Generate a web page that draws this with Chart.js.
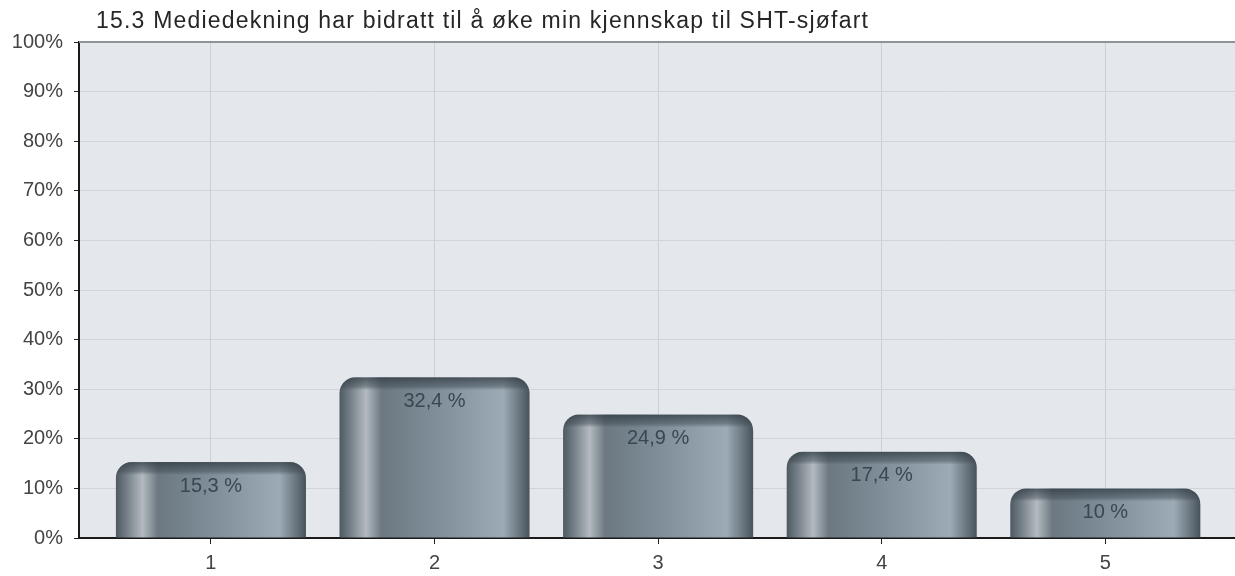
<!DOCTYPE html>
<html>
<head>
<meta charset="utf-8">
<script src="https://cdn.jsdelivr.net/npm/chart.js@4.4.0/dist/chart.umd.min.js"></script>
<style>
  html, body { margin: 0; padding: 0; background: #ffffff; }
  #wrap { width: 1235px; height: 576px; position: relative; }
</style>
</head>
<body>
<div id="wrap"><canvas id="c" width="1235" height="576"></canvas></div>
<script>
const chartTitle = '15.3 Mediedekning har bidratt til å øke min kjennskap til SHT-sjøfart';
const categories = ['1', '2', '3', '4', '5'];
const values = [15.3, 32.4, 24.9, 17.4, 10];
const yTicks = [0, 10, 20, 30, 40, 50, 60, 70, 80, 90, 100];

const FONT = '"Liberation Sans", Arial, sans-serif';

const bgPlugin = {
  id: 'bg',
  beforeDraw(chart) {
    const { ctx, chartArea: a } = chart;
    ctx.save();
    ctx.fillStyle = '#e4e7eb';
    ctx.fillRect(a.left, a.top, a.right - a.left, a.bottom - a.top);
    ctx.restore();
  },
  afterDraw(chart) {
    const { ctx, chartArea: a } = chart;
    ctx.save();
    ctx.strokeStyle = '#8f9398';
    ctx.lineWidth = 2;
    ctx.beginPath();
    ctx.moveTo(a.left, a.top);
    ctx.lineTo(a.right, a.top);
    ctx.stroke();
    ctx.fillStyle = '#262626';
    ctx.font = '23px ' + FONT;
    if ('letterSpacing' in ctx) ctx.letterSpacing = '1.2px';
    ctx.textBaseline = 'alphabetic';
    ctx.textAlign = 'left';
    ctx.fillText(chartTitle, 96, 28);
    ctx.restore();
  }
};

const barStyle = {
  id: 'barStyle',
  beforeDatasetsDraw(chart) {
    const { ctx } = chart;
    chart.getDatasetMeta(0).data.forEach(el => {
      const l = el.x - el.width / 2, r = el.x + el.width / 2;
      const g = ctx.createLinearGradient(l, 0, r, 0);
      g.addColorStop(0.00, '#4f5961');
      g.addColorStop(0.05, '#6f7a82');
      g.addColorStop(0.14, '#b3bbc0');
      g.addColorStop(0.22, '#6d7880');
      g.addColorStop(0.32, '#72808a');
      g.addColorStop(0.60, '#8695a0');
      g.addColorStop(0.86, '#9dabb6');
      g.addColorStop(0.94, '#6e7a83');
      g.addColorStop(1.00, '#48525a');
      el.options = Object.assign({}, el.options, { backgroundColor: g });
    });
  },
  afterDatasetsDraw(chart) {
    const { ctx } = chart;
    const meta = chart.getDatasetMeta(0);
    meta.data.forEach((el, i) => {
      const l = el.x - el.width / 2, w = el.width, t = el.y;
      const rad = 16;
      ctx.save();
      ctx.beginPath();
      ctx.moveTo(l, el.base);
      ctx.lineTo(l, t + rad);
      ctx.arcTo(l, t, l + rad, t, rad);
      ctx.lineTo(l + w - rad, t);
      ctx.arcTo(l + w, t, l + w, t + rad, rad);
      ctx.lineTo(l + w, el.base);
      ctx.closePath();
      ctx.clip();
      const vg = ctx.createLinearGradient(0, t, 0, t + 13);
      vg.addColorStop(0, 'rgba(45,55,63,0.75)');
      vg.addColorStop(0.7, 'rgba(60,70,78,0.45)');
      vg.addColorStop(1, 'rgba(60,70,78,0.0)');
      ctx.fillStyle = vg;
      ctx.fillRect(l, t, w, 13);
      ctx.restore();

      ctx.save();
      ctx.fillStyle = '#3b4650';
      ctx.font = '20px ' + FONT;
      ctx.textAlign = 'center';
      ctx.textBaseline = 'middle';
      const txt = String(values[i]).replace('.', ',') + ' %';
      ctx.fillText(txt, el.x, t + 24);
      ctx.restore();
    });
  }
};

new Chart(document.getElementById('c'), {
  type: 'bar',
  data: {
    datasets: [{
      data: values.map((v, i) => ({ x: i + 1, y: v })),
      backgroundColor: '#7f8c96',
      borderWidth: 0,
      borderRadius: { topLeft: 16, topRight: 16, bottomLeft: 0, bottomRight: 0 },
      borderSkipped: 'bottom',
      barPercentage: 1.0,
      categoryPercentage: 0.85
    }]
  },
  options: {
    responsive: false,
    animation: false,
    events: [],
    layout: { padding: { top: 42, right: 0, bottom: 0, left: 0 } },
    plugins: { legend: { display: false }, tooltip: { enabled: false }, title: { display: false } },
    scales: {
      x: {
        type: 'linear',
        offset: false,
        min: 0.41,
        max: 5.58,
        afterFit(s) { s.height = 38; },
        afterBuildTicks(s) { s.ticks = categories.map((c, i) => ({ value: i + 1 })); },
        ticks: {
          callback: (v) => categories[v - 1],
          color: '#444',
          font: { family: FONT, size: 20 },
          padding: 7,
          maxRotation: 0,
          autoSkip: false
        },
        grid: { offset: false, color: '#cdd0d5', lineWidth: 1, tickLength: 6, tickColor: '#222', drawTicks: true },
        border: { color: '#1a1a1a', width: 2 }
      },
      y: {
        min: 0,
        max: 100,
        afterFit(s) { s.width = 79; },
        afterBuildTicks(s) { s.ticks = yTicks.map(v => ({ value: v })); },
        ticks: {
          callback: (v) => v + '%',
          color: '#444',
          font: { family: FONT, size: 20 },
          padding: 11
        },
        grid: { color: '#d1d4d9', lineWidth: 1, tickLength: 5, tickColor: '#222', drawTicks: true },
        border: { color: '#1a1a1a', width: 2 }
      }
    }
  },
  plugins: [bgPlugin, barStyle]
});
</script>
</body>
</html>
